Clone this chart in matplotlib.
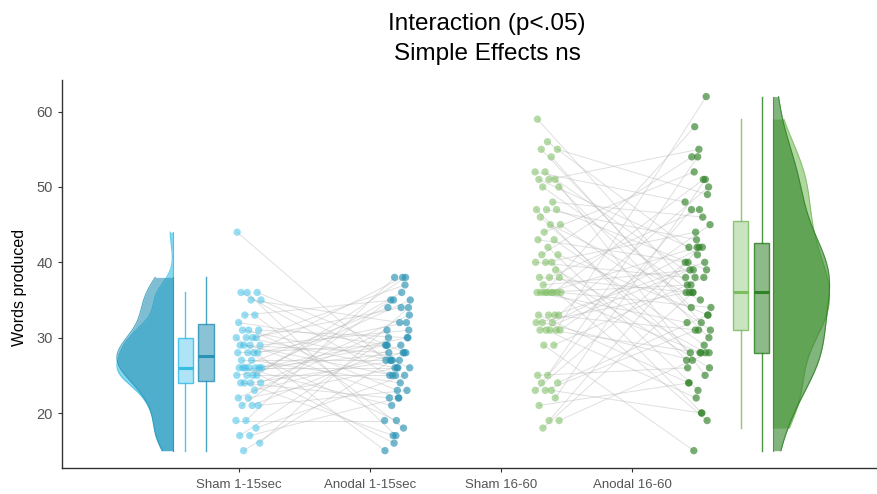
import numpy as np
import matplotlib
matplotlib.use('Agg')
from matplotlib import pyplot as plt

plt.rcParams['font.family'] = ['Liberation Sans', 'DejaVu Sans']

# words produced per participant, paired by index within each time window
groups = ['Sham 1-15sec', 'Anodal 1-15sec', 'Sham 16-60', 'Anodal 16-60']

sham_early = [15, 16, 17, 17, 18, 19, 19, 21, 21, 21, 22, 22, 23, 24, 24, 24, 24, 25,
              25, 25, 25, 26, 26, 26, 26, 26, 26, 26, 27, 27, 28, 28, 28, 28, 29, 29,
              29, 29, 30, 30, 30, 30, 31, 31, 31, 32, 33, 33, 35, 35, 36, 36, 36, 44]
anodal_early = [27, 34, 22, 30, 25, 38, 19, 29, 35, 23, 26, 31, 28, 17, 33, 27, 22, 38,
                25, 29, 36, 21, 30, 26, 34, 28, 16, 35, 24, 27, 32, 19, 29, 38, 25, 31,
                22, 28, 37, 26, 15, 34, 27, 30, 23, 29, 18, 35, 26, 32, 25, 28, 17, 27]

sham_late = [18, 19, 19, 21, 22, 23, 23, 23, 24, 24, 25, 25, 29, 29, 31, 31, 31, 31,
             31, 32, 32, 32, 33, 33, 33, 33, 36, 36, 36, 36, 36, 36, 36, 36, 37, 38,
             38, 38, 39, 40, 40, 40, 41, 41, 42, 43, 43, 44, 45, 45, 46, 47, 47, 47,
             48, 50, 50, 51, 51, 51, 52, 52, 54, 55, 55, 56, 59]
anodal_late = [36, 28, 42, 24, 51, 31, 40, 20, 47, 33, 54, 26, 38, 15, 45, 28, 39, 62,
               22, 36, 42, 27, 50, 31, 24, 40, 58, 34, 28, 37, 19, 42, 32, 51, 39, 26,
               47, 36, 28, 44, 38, 20, 54, 33, 23, 40, 29, 52, 31, 35, 28, 39, 43, 27,
               46, 36, 30, 55, 42, 25, 38, 48, 32, 34, 49, 41, 37]

title_lines = ['Interaction (p<.05)', 'Simple Effects ns']
y_label = 'Words produced'

colors = ['#35bde6', '#2a93b5', '#7bbd5f', '#2f8226']
data = [np.array(v, float) for v in (sham_early, anodal_early, sham_late, anodal_late)]

point_base = [0.975, 2.11, 3.26, 4.405]
jitter_w = 0.2
box_pos = [0.59, 0.748, 4.83, 4.99]
box_w = 0.117
violin_edge = [0.498, 0.498, 5.078, 5.078]
violin_dir = [-1, -1, 1, 1]
violin_w = 0.43


def jitter(n, base):
    # spread points across the strip with a golden-ratio sequence
    return base + jitter_w * ((np.arange(n) * 0.6180339 + 0.3) % 1.0)


def kde(vals, grid):
    n = len(vals)
    iqr = np.subtract(*np.percentile(vals, [75, 25]))
    bw = 0.9 * min(vals.std(ddof=1), iqr / 1.34) * n ** -0.2
    d = np.exp(-0.5 * ((grid[:, None] - vals[None, :]) / bw) ** 2).sum(axis=1)
    return d / d.max()


fig = plt.figure(figsize=(8.77, 4.94), dpi=100)
ax = fig.add_axes([62 / 877, 26 / 494, 815 / 877, 388 / 494])

xs = [jitter(len(d), b) for d, b in zip(data, point_base)]

# connecting lines between paired observations
for a, b in ((0, 1), (2, 3)):
    for x0, y0, x1, y1 in zip(xs[a], data[a], xs[b], data[b]):
        ax.plot([x0, x1], [y0, y1], color='#b5b5b5', alpha=0.42, lw=0.7, zorder=1)

pt_alpha = [0.5, 0.65, 0.55, 0.65]
for i in range(4):
    ax.scatter(xs[i], data[i], s=28, color=colors[i], alpha=pt_alpha[i],
               edgecolors='none', zorder=3)

# boxes, no outliers or caps
for i in range(4):
    bp = ax.boxplot(data[i], positions=[box_pos[i]], widths=box_w, patch_artist=True,
                    showfliers=False, showcaps=False, whis=1.5, manage_ticks=False)
    c = matplotlib.colors.to_rgba(colors[i])
    face_a = 0.4 if i % 2 == 0 else 0.55
    for p in bp['boxes']:
        p.set_facecolor((c[0], c[1], c[2], face_a))
        p.set_edgecolor((c[0], c[1], c[2], 0.85))
        p.set_linewidth(1.0)
        p.set_zorder(4)
    for w in bp['whiskers']:
        w.set_color((c[0], c[1], c[2], 0.85))
        w.set_linewidth(1.0)
    for m in bp['medians']:
        m.set_color(colors[i])
        m.set_linewidth(2.2)
        m.set_zorder(5)

# half violins, trimmed to the data range
for i in range(4):
    v = data[i]
    grid = np.linspace(v.min(), v.max(), 300)
    dens = kde(v, grid) * violin_w
    edge = violin_edge[i]
    outer = edge + violin_dir[i] * dens
    ax.fill_betweenx(grid, edge, outer, color=colors[i], alpha=0.6, lw=0, zorder=2)
    ax.plot(outer, grid, color=colors[i], lw=0.8, alpha=0.8, zorder=2)
    ax.plot([edge, edge], [v.min(), v.max()], color=colors[i], lw=0.8, alpha=0.8, zorder=2)

ax.set_xlim(-0.351, 5.87)
ax.set_ylim(12.7, 64.2)
ax.set_xticks([1, 2, 3, 4])
ax.set_xticklabels(groups, fontsize=9.5, color='#555555')
ax.set_yticks([20, 30, 40, 50, 60])
ax.tick_params(axis='y', labelsize=10.5, labelcolor='#555555', length=3, color='#333333')
ax.tick_params(axis='x', length=3, color='#333333', pad=5)
for s in ('top', 'right'):
    ax.spines[s].set_visible(False)
for s in ('left', 'bottom'):
    ax.spines[s].set_color('#333333')
    ax.spines[s].set_linewidth(1.0)

for k, line in enumerate(title_lines):
    fig.text(487 / 877, 1 - (24 + 30 * k) / 494, line, ha='center', va='center',
             fontsize=17.5)
fig.text(20 / 877, 1 - 287 / 494, y_label, rotation=90, ha='center', va='center',
         fontsize=11.5)

fig.savefig('out.png', dpi=100)
